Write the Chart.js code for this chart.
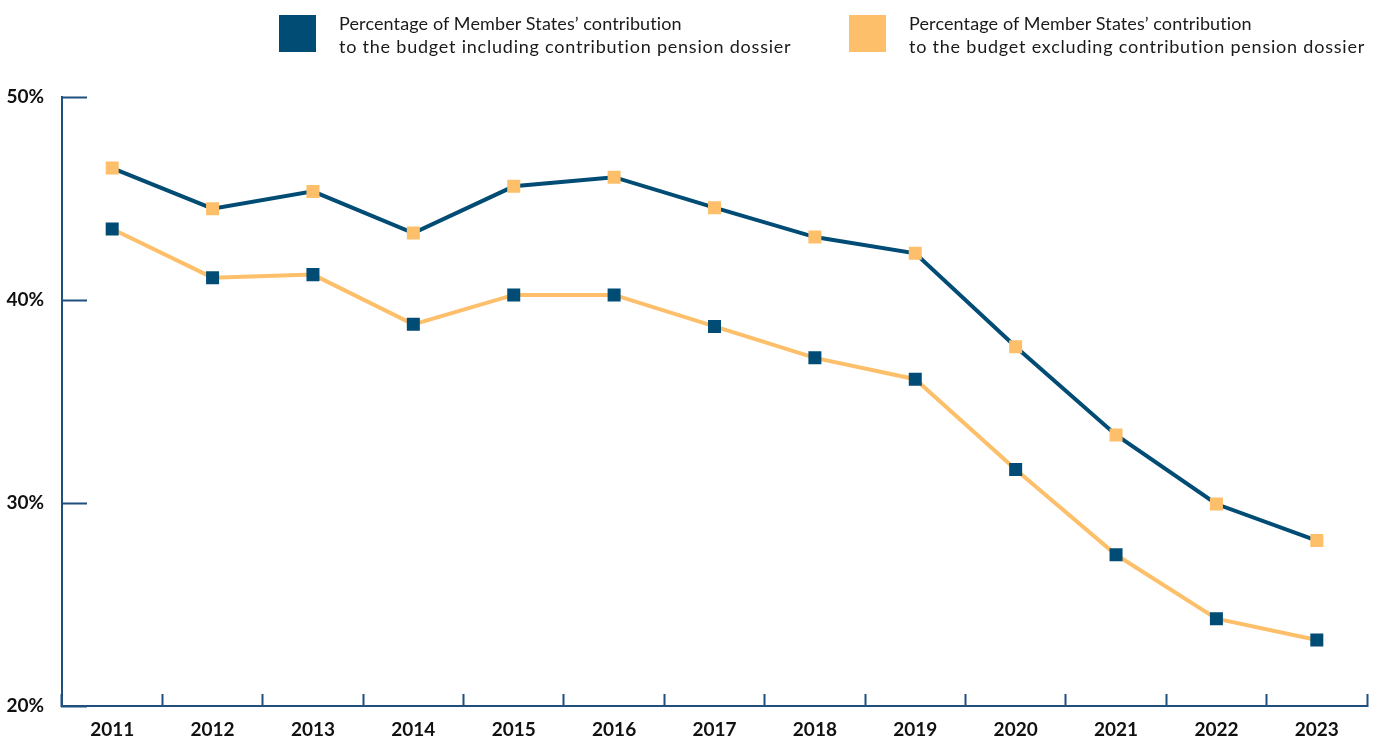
<!DOCTYPE html>
<html>
<head>
<meta charset="utf-8">
<title>Member States' contribution</title>
<script src="https://cdn.jsdelivr.net/npm/chart.js@4.4.0/dist/chart.umd.min.js"></script>
<style>
  html, body { margin: 0; padding: 0; background: #fff; }
  #wrap { position: relative; width: 1386px; height: 738px; overflow: hidden; }
  #chart { position: absolute; left: 0; top: 0; }
  .legend-item { position: absolute; top: 15px; font-family: Lato, "Open Sans", sans-serif; font-size: 18px; line-height: 23px; color: #1a1a1a; font-variant-ligatures: none; }
  .legend-item .box { position: absolute; left: 0; top: 0; width: 37px; height: 37px; }
  .legend-item .txt { position: absolute; left: 60px; top: -3px; white-space: nowrap; }
  .legend-item .l1 { letter-spacing: 0.12px; }
  .legend-item .l2 { letter-spacing: 0.78px; }
</style>
</head>
<body>
<div id="wrap">
  <canvas id="chart" width="1386" height="738"></canvas>
  <div class="legend-item" style="left:279px">
    <div class="box" style="background:#004c75"></div>
    <div class="txt"><span class="l1">Percentage of Member States’ contribution</span><br><span class="l2">to the budget including contribution pension dossier</span></div>
  </div>
  <div class="legend-item" style="left:849px">
    <div class="box" style="background:#fdbf6a"></div>
    <div class="txt"><span class="l1">Percentage of Member States’ contribution</span><br><span class="l2">to the budget excluding contribution pension dossier</span></div>
  </div>
</div>
<script>
// data
const years = ['2011', '2012', '2013', '2014', '2015', '2016', '2017', '2018', '2019', '2020', '2021', '2022', '2023'];
const inclPension = [46.5, 44.5, 45.35, 43.3, 45.6, 46.05, 44.55, 43.1, 42.3, 37.7, 33.35, 29.95, 28.15];
const exclPension = [43.5, 41.1, 41.25, 38.8, 40.25, 40.25, 38.7, 37.15, 36.1, 31.65, 27.45, 24.3, 23.25];
const yTicks = [20, 30, 40, 50];

const navy = '#004c75';
const orange = '#fdbf6a';
const axisColor = '#1f4f7d';
const tickFont = { family: 'Lato', size: 19, weight: 'bold' };

new Chart(document.getElementById('chart'), {
    type: 'line',
    data: {
        labels: years,
        datasets: [
            {
                label: 'Percentage of Member States’ contribution to the budget including contribution pension dossier',
                data: inclPension,
                borderColor: navy,
                borderWidth: 4,
                pointStyle: 'rect',
                pointRadius: 9.2,
                pointBackgroundColor: orange,
                pointBorderWidth: 0,
                tension: 0
            },
            {
                label: 'Percentage of Member States’ contribution to the budget excluding contribution pension dossier',
                data: exclPension,
                borderColor: orange,
                borderWidth: 4,
                pointStyle: 'rect',
                pointRadius: 9.2,
                pointBackgroundColor: navy,
                pointBorderWidth: 0,
                tension: 0
            }
        ]
    },
    options: {
        responsive: false,
        animation: false,
        layout: { padding: { top: 97, right: 19, left: 0, bottom: 0 } },
        plugins: {
            legend: { display: false },
            tooltip: { enabled: false }
        },
        scales: {
            x: {
                offset: true,
                afterFit: (scale) => { scale.height = 32; },
                border: { color: axisColor, width: 2 },
                grid: { offset: true, drawOnChartArea: false, tickLength: -12, tickColor: axisColor, tickWidth: 2 },
                ticks: { padding: 24, color: '#111', font: tickFont, maxRotation: 0, autoSkip: false }
            },
            y: {
                min: 20,
                max: 50,
                afterBuildTicks: (scale) => { scale.ticks = yTicks.map(v => ({ value: v })); },
                afterFit: (scale) => {
                    scale.width = 62;
                    // the label padding would otherwise push the x axis up
                    scale.paddingTop = 0;
                    scale.paddingBottom = 0;
                },
                border: { color: axisColor, width: 2 },
                grid: { drawOnChartArea: false, tickLength: -25, tickColor: axisColor, tickWidth: 2 },
                ticks: { padding: 43, color: '#111', font: tickFont, callback: (v) => v + '%' }
            }
        }
    }
});
</script>
</body>
</html>
